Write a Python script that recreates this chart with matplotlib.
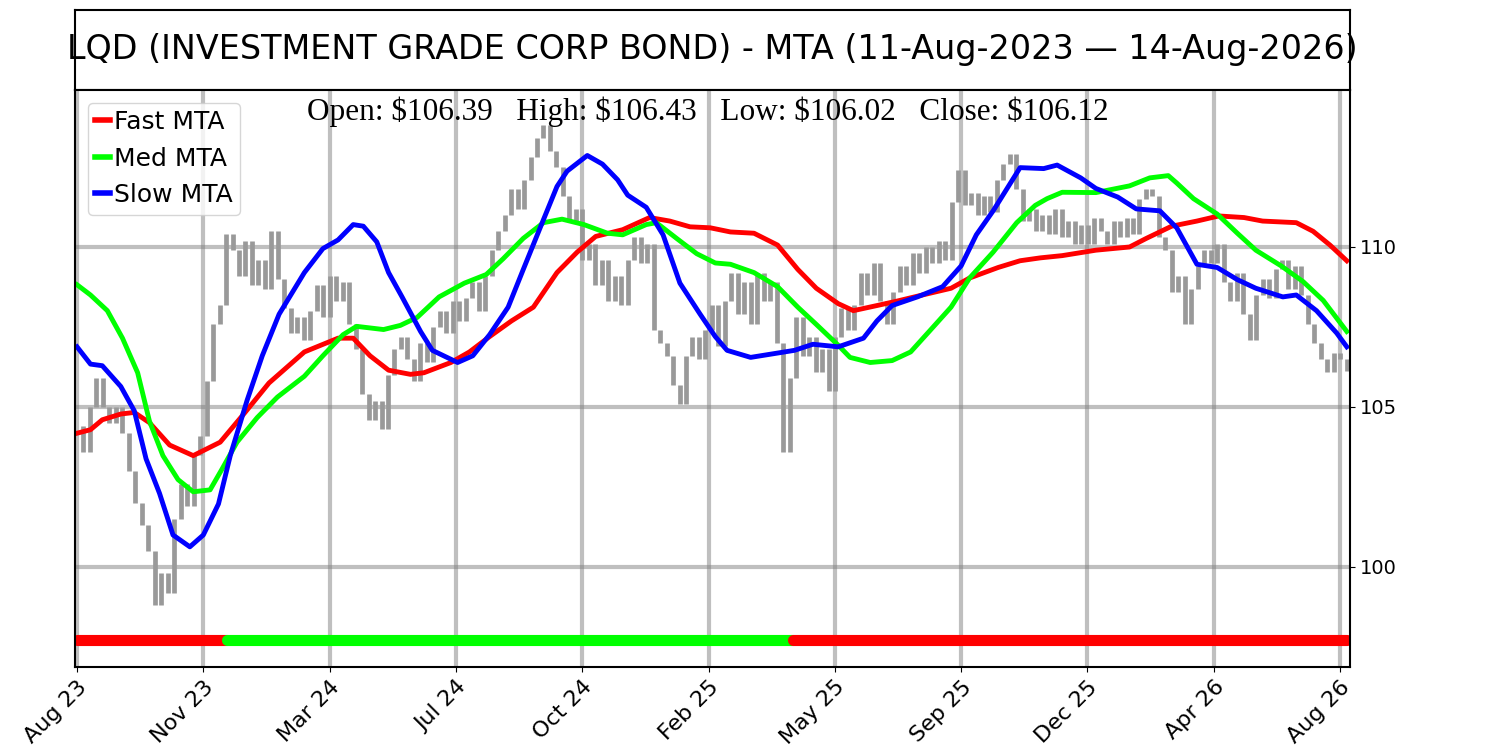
import numpy as np
import pandas as pd
import matplotlib
matplotlib.use('Agg')
import matplotlib.pyplot as plt

# exchange holidays inside the window
holidays = ['2023-09-04', '2023-11-23', '2023-12-25',
            '2024-01-01', '2024-01-15', '2024-02-19', '2024-03-29', '2024-05-27',
            '2024-06-19', '2024-07-04', '2024-09-02', '2024-11-28', '2024-12-25',
            '2025-01-01', '2025-01-09', '2025-01-20', '2025-02-17', '2025-04-18',
            '2025-05-26', '2025-06-19', '2025-07-04', '2025-09-01', '2025-11-27',
            '2025-12-25',
            '2026-01-01', '2026-01-19', '2026-02-16', '2026-04-03', '2026-05-25',
            '2026-06-19', '2026-07-03']
dates = pd.bdate_range('2023-08-11', '2026-08-14', freq='C', holidays=holidays)

tick_step = 75
tick_labels = ['Aug 23', 'Nov 23', 'Mar 24', 'Jul 24', 'Oct 24', 'Feb 25',
               'May 25', 'Sep 25', 'Dec 25', 'Apr 26', 'Aug 26']

close = [104.4, 103.6, 105.0, 105.9, 105.0, 104.5, 105.0, 104.2, 103.0, 102.0,
         101.3, 100.5, 98.8, 99.8, 99.2, 101.5, 102.6, 101.9, 103.5, 104.1,
         105.8, 107.6, 108.2, 110.4, 109.9, 109.1, 110.2, 108.8, 109.6, 108.7,
         110.5, 109.0, 108.1, 107.3, 107.8, 107.1, 108.0, 108.8, 107.8, 109.1,
         108.3, 108.9, 107.6, 106.8, 105.4, 104.6, 105.2, 104.3, 106.0, 106.8,
         107.2, 106.5, 105.8, 107.0, 106.4, 107.5, 108.0, 107.3, 108.3, 107.7,
         108.4, 108.9, 108.0, 109.1, 109.9, 110.5, 111.0, 111.8, 111.2, 112.1,
         112.8, 113.4, 113.8, 113.0, 112.5, 111.6, 110.8, 111.2, 109.6, 110.1,
         108.8, 109.6, 108.3, 109.1, 108.2, 109.6, 110.3, 109.5, 110.1, 107.4,
         107.0, 106.6, 105.7, 105.1, 106.6, 107.2, 106.5, 107.4, 108.2, 106.9,
         108.3, 109.2, 107.9, 108.9, 107.6, 109.2, 108.3, 108.9, 107.0, 103.6,
         105.9, 107.8, 106.6, 107.2, 106.1, 106.8, 105.5, 107.2, 108.1, 107.4,
         108.2, 109.2, 108.5, 109.5, 108.3, 107.6, 108.6, 109.4, 108.8, 109.8,
         109.2, 110.0, 109.5, 110.2, 109.6, 111.4, 112.4, 111.3, 111.7, 111.0,
         111.6, 111.1, 112.1, 112.6, 112.9, 111.8, 110.8, 111.2, 110.5, 111.0,
         110.4, 111.2, 110.3, 110.8, 110.1, 110.7, 110.1, 110.9, 110.5, 110.1,
         110.8, 110.3, 110.9, 110.4, 111.5, 111.8, 111.6, 110.3, 109.9, 108.6,
         109.1, 107.6, 108.7, 109.4, 109.9, 109.5, 110.1, 108.9, 108.3, 109.2,
         107.9, 107.1, 108.5, 109.0, 108.4, 109.3, 109.6, 108.7, 109.4, 108.5,
         107.6, 107.0, 106.5, 106.1, 106.7, 106.5, 106.12]

fast_bar = [0, 8, 15, 26, 34, 43, 55, 69, 85, 99, 114, 135, 155, 164, 174, 185,
            198, 206, 222, 233, 245, 258, 271, 285, 297, 308, 324, 340, 352, 364,
            376, 388, 402, 416, 428, 439, 452, 461, 475, 487, 502, 519, 530, 547,
            560, 572, 585, 605, 625, 635, 650, 665, 678, 693, 704, 724, 734, 744, 754]
fast_mta = [104.18, 104.29, 104.6, 104.78, 104.83, 104.51, 103.81, 103.48, 103.9,
            104.78, 105.75, 106.72, 107.15, 107.15, 106.6, 106.15, 106.02, 106.07,
            106.39, 106.72, 107.2, 107.69, 108.12, 109.2, 109.84, 110.33, 110.54,
            110.92, 110.81, 110.63, 110.6, 110.47, 110.43, 110.06, 109.3, 108.71,
            108.23, 108.01, 108.17, 108.31, 108.5, 108.71, 109.03, 109.36, 109.57,
            109.66, 109.73, 109.9, 110.0, 110.27, 110.65, 110.81, 110.97, 110.92,
            110.81, 110.76, 110.49, 110.06, 109.57]

med_bar = [0, 8, 18, 27, 36, 43, 51, 60, 69, 79, 86, 95, 107, 119, 135, 146, 158,
           166, 182, 192, 202, 215, 230, 243, 253, 265, 277, 288, 301, 315, 324,
           338, 344, 356, 368, 379, 388, 402, 416, 428, 439, 452, 459, 471, 484,
           495, 506, 519, 530, 544, 558, 569, 576, 585, 605, 625, 637, 648, 653,
           663, 677, 689, 700, 715, 728, 740, 754]
med_mta = [108.82, 108.5, 108.01, 107.15, 106.07, 104.56, 103.48, 102.73, 102.35,
           102.41, 103.05, 103.9, 104.67, 105.31, 105.96, 106.6, 107.26, 107.52,
           107.42, 107.55, 107.8, 108.44, 108.87, 109.14, 109.63, 110.27, 110.76,
           110.87, 110.7, 110.43, 110.38, 110.7, 110.76, 110.27, 109.79, 109.5,
           109.46, 109.2, 108.76, 108.12, 107.58, 106.93, 106.55, 106.39, 106.45,
           106.72, 107.36, 108.12, 109.03, 109.84, 110.76, 111.3, 111.51, 111.71,
           111.7, 111.91, 112.16, 112.23, 112.0, 111.51, 111.03, 110.43, 109.9,
           109.41, 108.92, 108.33, 107.36]

slow_bar = [0, 8, 15, 26, 34, 41, 49, 57, 67, 75, 84, 91, 101, 110, 120, 135, 146,
            155, 164, 170, 178, 185, 193, 204, 211, 226, 235, 245, 256, 265, 275,
            285, 291, 303, 312, 321, 327, 338, 348, 358, 370, 379, 386, 400, 413,
            426, 437, 452, 467, 475, 484, 499, 514, 525, 534, 544, 560, 574, 582,
            596, 605, 618, 629, 643, 653, 665, 677, 689, 700, 716, 724, 736, 748, 754]
slow_mta = [106.88, 106.34, 106.29, 105.64, 104.88, 103.38, 102.3, 101.0, 100.63,
            101.0, 101.97, 103.48, 105.21, 106.6, 107.9, 109.2, 109.95, 110.22,
            110.7, 110.65, 110.16, 109.2, 108.44, 107.36, 106.77, 106.39, 106.6,
            107.26, 108.12, 109.3, 110.6, 111.89, 112.37, 112.86, 112.59, 112.1,
            111.62, 111.24, 110.38, 108.87, 107.9, 107.2, 106.77, 106.55, 106.66,
            106.77, 106.96, 106.88, 107.15, 107.69, 108.17, 108.44, 108.76, 109.41,
            110.38, 111.13, 112.48, 112.45, 112.56, 112.16, 111.83, 111.56, 111.19,
            111.13, 110.6, 109.46, 109.36, 108.98, 108.71, 108.44, 108.5, 108.01,
            107.31, 106.88]

# trend band along the bottom
regime_start = [0, 89, 425]
regime_end = [89, 425, 754]
regime_color = ['red', 'lime', 'red']
band_level = 97.72

last_open, last_high, last_low, last_close = 106.39, 106.43, 106.02, 106.12

fig = plt.figure(figsize=(15, 7.5), dpi=100)

ax_t = fig.add_axes([0.05, 0.88, 0.85, 0.1067])
ax_t.set_xticks([])
ax_t.set_yticks([])
for s in ax_t.spines.values():
    s.set_linewidth(1.5)
ax_t.text(0.5, 0.5, 'LQD (INVESTMENT GRADE CORP BOND) - MTA (11-Aug-2023 \u2014 14-Aug-2026)',
          ha='center', va='center', fontsize=24, transform=ax_t.transAxes)

ax = fig.add_axes([0.05, 0.1107, 0.85, 0.7693])
ax.set_axisbelow(True)
ax.grid(True, color='grey', alpha=0.5, lw=3)

n = len(dates)
close_bar = np.linspace(0, n - 1, len(close))
c = np.array(close)
lo = np.minimum(c[:-1], c[1:])
hi = np.maximum(c[:-1], c[1:])
ax.vlines(close_bar[1:], lo, hi, color='#999999', lw=3.4)

ax.plot(fast_bar, fast_mta, color='red', lw=3.5, label='Fast MTA', solid_joinstyle='round')
ax.plot(med_bar, med_mta, color='lime', lw=3.5, label='Med MTA', solid_joinstyle='round')
ax.plot(slow_bar, slow_mta, color='blue', lw=3.5, label='Slow MTA', solid_joinstyle='round')

for s0, s1, col in zip(regime_start, regime_end, regime_color):
    ax.plot([s0, s1], [band_level, band_level], color=col, lw=8, solid_capstyle='round')

sub = (f'Open: \\${last_open:.2f}   High: \\${last_high:.2f}   '
       f'Low: \\${last_low:.2f}   Close: \\${last_close:.2f}')
ax.text(0.496, 0.988, sub, transform=ax.transAxes, ha='center', va='top',
        fontsize=22.5, family='Liberation Serif')

ax.set_xlim(-1.2, 755.9)
ax.set_ylim(96.875, 114.906)
ax.yaxis.tick_right()
ax.set_yticks([100, 105, 110])
ax.tick_params(axis='y', labelsize=14)
ticks = [i * tick_step for i in range(len(tick_labels))]
ax.set_xticks(ticks)
ax.set_xticklabels(tick_labels, rotation=45, ha='right', rotation_mode='anchor',
                   fontsize=16)
for s in ax.spines.values():
    s.set_linewidth(1.5)

leg = ax.legend(loc='upper left', fontsize=18, handlelength=0.6, handletextpad=0.15,
                borderpad=0.3, labelspacing=0.5)
for line in leg.get_lines():
    line.set_linewidth(4)

fig.savefig('out.png')
